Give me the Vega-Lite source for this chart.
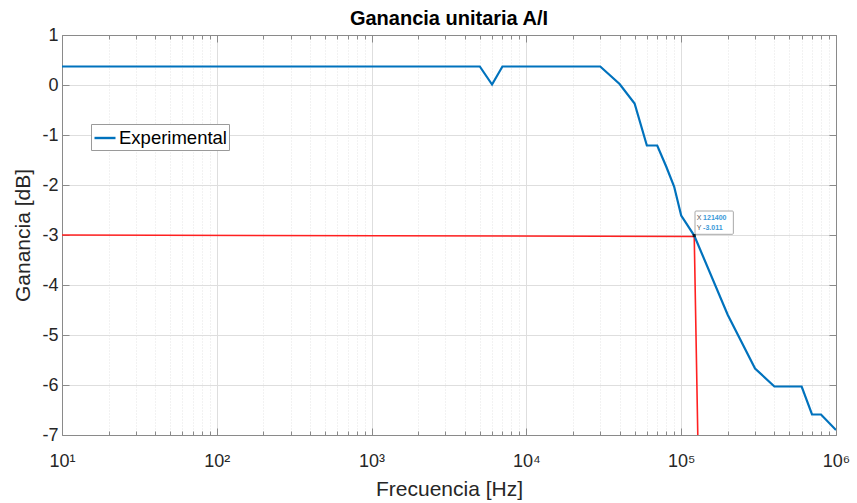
{
  "$schema": "https://vega.github.io/schema/vega-lite/v6.json",
  "width": 774,
  "height": 400,
  "autosize": {"type": "none"},
  "padding": {"left": 62, "top": 35, "right": 21, "bottom": 68},
  "background": "white",
  "title": {"text": "Ganancia unitaria A/I", "font": "Liberation Sans", "fontSize": 20, "fontWeight": "bold", "color": "#000000", "anchor": "middle", "offset": -3},
  "config": {
    "view": {"stroke": null},
    "axis": {"labelFont": "Liberation Sans", "titleFont": "Liberation Sans", "domainColor": "#8a8a8a", "tickColor": "#8a8a8a", "labelColor": "#262626", "titleColor": "#262626", "titleFontWeight": "normal"}
  },
  "datasets": {
    "blue": [
      {"f": 10, "g": 0.37, "serie": "Experimental"},
      {"f": 5000, "g": 0.37, "serie": "Experimental"},
      {"f": 6000, "g": 0.01, "serie": "Experimental"},
      {"f": 7000, "g": 0.37, "serie": "Experimental"},
      {"f": 30000, "g": 0.37, "serie": "Experimental"},
      {"f": 40000, "g": 0.02, "serie": "Experimental"},
      {"f": 50000, "g": -0.37, "serie": "Experimental"},
      {"f": 60000, "g": -1.21, "serie": "Experimental"},
      {"f": 70000, "g": -1.21, "serie": "Experimental"},
      {"f": 80000, "g": -1.63, "serie": "Experimental"},
      {"f": 90000, "g": -2.03, "serie": "Experimental"},
      {"f": 100000, "g": -2.61, "serie": "Experimental"},
      {"f": 121400, "g": -3.011, "serie": "Experimental"},
      {"f": 200000, "g": -4.6, "serie": "Experimental"},
      {"f": 300000, "g": -5.67, "serie": "Experimental"},
      {"f": 400000, "g": -6.03, "serie": "Experimental"},
      {"f": 600000, "g": -6.03, "serie": "Experimental"},
      {"f": 700000, "g": -6.59, "serie": "Experimental"},
      {"f": 800000, "g": -6.59, "serie": "Experimental"},
      {"f": 1000000, "g": -6.9, "serie": "Experimental"}
    ],
    "red": [
      {"f": 10, "g": -3.0, "o": 1},
      {"f": 121400, "g": -3.03, "o": 2},
      {"f": 128000, "g": -7.0, "o": 3}
    ],
    "tipbox": [
      {"f1": 122800, "f2": 217200, "g1": -2.52, "g2": -2.986}
    ],
    "tippoint": [
      {"f": 121400, "g": -3.011}
    ],
    "tiptext": [
      {"f": 126000, "g": -2.66, "t": "X", "k": "lab"},
      {"f": 138500, "g": -2.66, "t": "121400", "k": "val"},
      {"f": 126000, "g": -2.86, "t": "Y", "k": "lab"},
      {"f": 138500, "g": -2.86, "t": "-3.011", "k": "val"}
    ]
  },
  "resolve": {"axis": {"x": "independent", "y": "independent"}},
  "layer": [
    {
      "data": {"name": "red"},
      "mark": {"type": "line", "color": "#ff2020", "strokeWidth": 1.6, "clip": true},
      "encoding": {
        "x": {"field": "f", "type": "quantitative", "scale": {"type": "log", "domain": [10, 1000000], "nice": false},
          "axis": {"orient": "bottom", "values": [10, 100, 1000, 10000, 100000, 1000000], "labelExpr": "'10' + ['⁰','¹','²','³','⁴','⁵','⁶'][round(log(datum.value)/LN10)]", "labelFlush": false, "labelOverlap": false, "labelBound": false, "grid": true, "gridColor": "#dedede", "tickSize": -7, "labelFontSize": 18, "labelPadding": 24, "title": "Frecuencia [Hz]", "titleFontSize": 21, "titlePadding": 8}},
        "y": {"field": "g", "type": "quantitative", "scale": {"domain": [-7, 1], "nice": false, "zero": false},
          "axis": {"orient": "left", "values": [-7, -6, -5, -4, -3, -2, -1, 0, 1], "labelExpr": "'' + datum.value", "grid": true, "gridColor": "#dedede", "tickSize": -7, "labelFontSize": 18, "labelPadding": 11, "title": "Ganancia [dB]", "titleFontSize": 21, "titlePadding": 8}},
        "order": {"field": "o", "type": "quantitative"}
      }
    },
    {
      "data": {"name": "blue"},
      "mark": {"type": "line", "strokeWidth": 2.2, "clip": true},
      "encoding": {
        "x": {"field": "f", "type": "quantitative", "scale": {"type": "log", "domain": [10, 1000000], "nice": false},
          "axis": {"orient": "bottom", "values": [20, 30, 40, 50, 60, 70, 80, 90, 200, 300, 400, 500, 600, 700, 800, 900, 2000, 3000, 4000, 5000, 6000, 7000, 8000, 9000, 20000, 30000, 40000, 50000, 60000, 70000, 80000, 90000, 200000, 300000, 400000, 500000, 600000, 700000, 800000, 900000], "labels": false, "domain": false, "title": null, "grid": true, "gridColor": "#e4e4e4", "gridDash": [1, 2], "tickSize": -4}},
        "y": {"field": "g", "type": "quantitative", "scale": {"domain": [-7, 1], "nice": false, "zero": false},
          "axis": {"orient": "right", "values": [-7, -6, -5, -4, -3, -2, -1, 0, 1], "labels": false, "title": null, "grid": false, "tickSize": -7}},
        "color": {"field": "serie", "type": "nominal", "scale": {"domain": ["Experimental"], "range": ["#0072BD"]},
          "legend": {"title": null, "orient": "none", "legendX": 29, "legendY": 89, "fillColor": "white", "strokeColor": "#9a9a9a", "padding": 2, "symbolType": "stroke", "symbolSize": 441, "symbolStrokeWidth": 2.4, "labelFont": "Liberation Sans", "labelFontSize": 18.5, "labelColor": "#000000", "labelOffset": 2}}
      }
    },
    {
      "data": {"name": "tipbox"},
      "mark": {"type": "rect", "fill": "white", "stroke": "#a8a8a8", "strokeWidth": 1, "cornerRadius": 1},
      "encoding": {
        "x": {"field": "f1", "type": "quantitative", "scale": {"type": "log", "domain": [10, 1000000], "nice": false},
          "axis": {"orient": "top", "values": [10, 100, 1000, 10000, 100000, 1000000], "labels": false, "title": null, "grid": false, "tickSize": -7}},
        "x2": {"field": "f2"},
        "y": {"field": "g1", "type": "quantitative", "scale": {"domain": [-7, 1], "nice": false, "zero": false}, "axis": null},
        "y2": {"field": "g2"}
      }
    },
    {
      "data": {"name": "tippoint"},
      "mark": {"type": "point", "shape": "square", "filled": true, "color": "#000000", "size": 10},
      "encoding": {
        "x": {"field": "f", "type": "quantitative", "scale": {"type": "log", "domain": [10, 1000000], "nice": false},
          "axis": {"orient": "top", "values": [20, 30, 40, 50, 60, 70, 80, 90, 200, 300, 400, 500, 600, 700, 800, 900, 2000, 3000, 4000, 5000, 6000, 7000, 8000, 9000, 20000, 30000, 40000, 50000, 60000, 70000, 80000, 90000, 200000, 300000, 400000, 500000, 600000, 700000, 800000, 900000], "labels": false, "domain": false, "title": null, "grid": false, "tickSize": -4}},
        "y": {"field": "g", "type": "quantitative", "scale": {"domain": [-7, 1], "nice": false, "zero": false}, "axis": null}
      }
    },
    {
      "data": {"name": "tiptext"},
      "transform": [{"filter": "datum.k == 'lab'"}],
      "mark": {"type": "text", "align": "left", "baseline": "middle", "font": "Liberation Sans", "fontSize": 7, "color": "#555555"},
      "encoding": {
        "x": {"field": "f", "type": "quantitative", "scale": {"type": "log", "domain": [10, 1000000], "nice": false}, "axis": null},
        "y": {"field": "g", "type": "quantitative", "scale": {"domain": [-7, 1], "nice": false, "zero": false}, "axis": null},
        "text": {"field": "t"}
      }
    },
    {
      "data": {"name": "tiptext"},
      "transform": [{"filter": "datum.k == 'val'"}],
      "mark": {"type": "text", "align": "left", "baseline": "middle", "font": "Liberation Sans", "fontSize": 7, "fontWeight": "bold", "color": "#3a9ad9"},
      "encoding": {
        "x": {"field": "f", "type": "quantitative", "scale": {"type": "log", "domain": [10, 1000000], "nice": false}, "axis": null},
        "y": {"field": "g", "type": "quantitative", "scale": {"domain": [-7, 1], "nice": false, "zero": false}, "axis": null},
        "text": {"field": "t"}
      }
    }
  ]
}
